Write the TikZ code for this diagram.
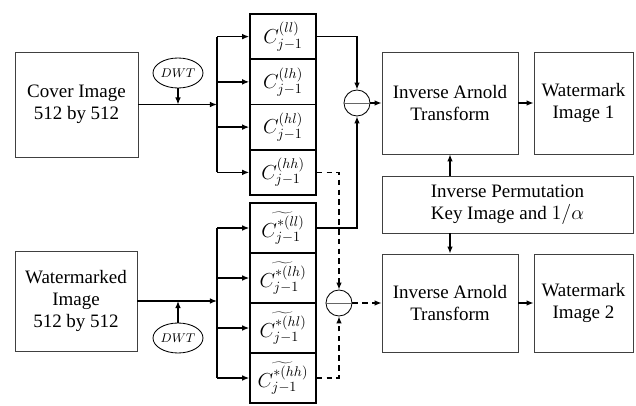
\documentclass[tikz,border=0pt]{standalone}
\usepackage{fontspec}
\setmainfont{Liberation Serif}
\usetikzlibrary{arrows.meta,shapes.geometric}

\begin{document}
\begin{tikzpicture}[x=0.025cm,y=-0.025cm,
  font=\fontsize{13.5}{15.6}\selectfont,
  box/.style={draw=black!75,line width=0.6pt,align=center,inner sep=0pt},
  coef/.style={draw,line width=1.1pt,minimum width=1.65cm,inner sep=0pt,font=\fontsize{14}{16}\selectfont},
  dwt/.style={draw,ellipse,line width=0.6pt,minimum width=1.25cm,minimum height=0.75cm,inner sep=0pt,font=\small},
  sub/.style={draw,circle,line width=0.6pt,minimum size=0.65cm,inner sep=0pt},
  link/.style={line width=0.9pt},
  arr/.style={link,-{Latex[length=5pt,width=4pt]}},
  darr/.style={arr,dash pattern=on 4pt off 3pt}]
  \useasboundingbox (0,0) rectangle (636,406);

  % Eingaenge
  \node[box,minimum width=3.075cm,minimum height=2.625cm] (cover) at (76.5,104.5) {Cover Image\\512 by 512};
  \node[box,minimum width=3.05cm,minimum height=2.5cm] (wmkd) at (76,301) {Watermarked\\Image\\512 by 512};
  \node[dwt] (dwta) at (178,73) {$DWT$};
  \node[dwt] (dwtb) at (178,338) {$DWT$};
  \coordinate (bara) at (217,104.5);
  \coordinate (barb) at (217,301);

  % Koeffizienten oben
  \node[coef,minimum height=1.13cm] (ca) at (283,36.6) {$C_{j-1}^{(ll)}$};
  \node[coef,minimum height=1.13cm] (cb) at (283,81.9) {$C_{j-1}^{(lh)}$};
  \node[coef,minimum height=1.13cm] (cc) at (283,127.1) {$C_{j-1}^{(hl)}$};
  \node[coef,minimum height=1.13cm] (cd) at (283,172.4) {$C_{j-1}^{(hh)}$};

  % Koeffizienten unten
  \node[coef,minimum height=1.25cm] (da) at (283,228) {$\widetilde{C_{j-1}^{*(ll)}}$};
  \node[coef,minimum height=1.25cm] (db) at (283,278) {$\widetilde{C_{j-1}^{*(lh)}}$};
  \node[coef,minimum height=1.25cm] (dc) at (283,328) {$\widetilde{C_{j-1}^{*(hl)}}$};
  \node[coef,minimum height=1.25cm] (dd) at (283,378) {$\widetilde{C_{j-1}^{*(hh)}}$};

  % Differenz
  \node[sub] (suba) at (357,103) {};
  \node[sub] (subb) at (339,303) {};
  \draw[black!60,line width=0.6pt] (suba.west) -- (suba.east);
  \draw[black!60,line width=0.6pt] (subb.west) -- (subb.east);

  % Ausgaenge
  \node[box,minimum width=3.4cm,minimum height=2.55cm] (arna) at (450,103) {Inverse Arnold\\Transform};
  \node[box,minimum width=2.475cm,minimum height=2.55cm] (wma) at (583.5,103) {Watermark\\Image 1};
  \node[box,minimum width=6.275cm,minimum height=1.425cm] (perm) at (507.5,204.5) {Inverse Permutation\\Key Image and $1/\alpha$};
  \node[box,minimum width=3.4cm,minimum height=2.45cm] (arnb) at (450,303) {Inverse Arnold\\Transform};
  \node[box,minimum width=2.475cm,minimum height=2.45cm] (wmb) at (583.5,303) {Watermark\\Image 2};

  % Verbindungen
  \draw[arr] (cover.east) -- (bara);
  \draw[arr] (dwta.south) -- (dwta.south |- bara);
  \draw[link] (bara |- ca.west) -- (bara |- cd.west);
  \draw[arr] (bara |- ca.west) -- (ca.west);
  \draw[arr] (bara |- cb.west) -- (cb.west);
  \draw[arr] (bara |- cc.west) -- (cc.west);
  \draw[arr] (bara |- cd.west) -- (cd.west);

  \draw[arr] (wmkd.east) -- (barb);
  \draw[arr] (dwtb.north) -- (dwtb.north |- barb);
  \draw[link] (barb |- da.west) -- (barb |- dd.west);
  \draw[arr] (barb |- da.west) -- (da.west);
  \draw[arr] (barb |- db.west) -- (db.west);
  \draw[arr] (barb |- dc.west) -- (dc.west);
  \draw[arr] (barb |- dd.west) -- (dd.west);

  \draw[arr] (ca.east) -| (suba.north);
  \draw[arr] (da.east) -| (suba.south);
  \draw[darr] (cd.east) -| (subb.north);
  \draw[darr] (dd.east) -| (subb.south);

  \draw[arr] (suba.east) -- (arna.west);
  \draw[darr] (subb.east) -- (arnb.west);
  \draw[arr] (arna.east) -- (wma.west);
  \draw[arr] (arnb.east) -- (wmb.west);
  \draw[arr] (perm.north -| arna.south) -- (arna.south);
  \draw[arr] (perm.south -| arnb.north) -- (arnb.north);
\end{tikzpicture}
\end{document}
